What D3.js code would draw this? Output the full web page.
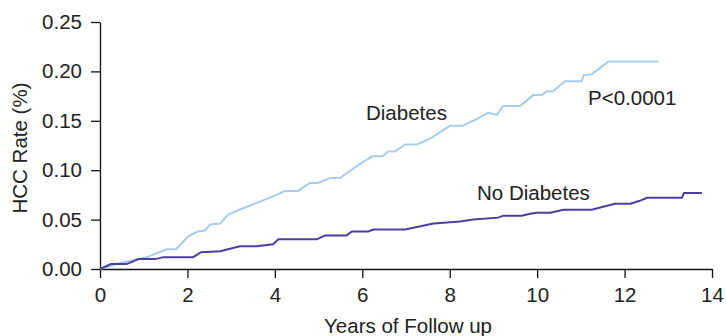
<!DOCTYPE html>
<html>
<head>
<meta charset="utf-8">
<script src="https://cdn.jsdelivr.net/npm/d3@7"></script>
<style>
body{margin:0;background:#fff;}
svg text{font-family:"Liberation Sans",Arial,sans-serif;fill:#222;}
</style>
</head>
<body>
<div class="chart"></div>
<script>
// years of follow up / HCC rate
let diabYears=[0,0.46,1.07,1.53,1.74,2.02,2.24,2.40,2.52,2.75,2.93,3.36,3.70,3.93,4.23,4.53,4.80,4.99,5.26,5.49,5.87,6.22,6.47,6.59,6.75,6.98,7.25,7.55,8.01,8.30,8.62,8.88,9.08,9.22,9.61,9.91,10.11,10.22,10.36,10.64,11.02,11.06,11.25,11.63,12.77]
let diabRate=[0,0.006,0.012,0.020,0.020,0.033,0.038,0.039,0.045,0.046,0.055,0.063,0.069,0.073,0.079,0.079,0.087,0.087,0.092,0.092,0.104,0.114,0.114,0.119,0.119,0.126,0.126,0.132,0.145,0.145,0.152,0.158,0.156,0.165,0.165,0.176,0.176,0.180,0.180,0.190,0.190,0.196,0.197,0.210,0.210]

let noDiabYears=[0,0.25,0.61,0.88,1.26,1.45,2.13,2.31,2.75,3.20,3.58,3.96,4.08,4.96,5.15,5.64,5.76,6.14,6.25,6.98,7.63,8.24,8.54,9.11,9.23,9.65,9.84,9.99,10.30,10.60,11.25,11.51,11.78,12.13,12.35,12.51,13.31,13.36,13.77]
let noDiabRate=[0,0.005,0.005,0.010,0.010,0.012,0.012,0.017,0.018,0.023,0.023,0.025,0.030,0.030,0.034,0.034,0.038,0.038,0.040,0.040,0.046,0.048,0.050,0.052,0.054,0.054,0.056,0.057,0.057,0.060,0.060,0.063,0.066,0.066,0.069,0.072,0.072,0.077,0.077]

let xTicks=[0,2,4,6,8,10,12,14]
let yTicks=[0,0.05,0.10,0.15,0.20,0.25]

let w=726, h=336
let fs='20.5px'
let svg=d3.select('.chart').append('svg').attr('width',w).attr('height',h)

let xScale=d3.scaleLinear().domain([0,14]).range([100,712])
let yScale=d3.scaleLinear().domain([0,0.25]).range([269,22])

let xAxis=d3.axisBottom(xScale).tickValues(xTicks).tickFormat(d3.format('d')).tickSize(9).tickSizeOuter(0).tickPadding(9)
let yAxis=d3.axisLeft(yScale).tickValues(yTicks).tickFormat(d3.format('.2f')).tickSize(9).tickSizeOuter(0).tickPadding(9)

svg.append('g').attr('transform','translate(0,269)').call(xAxis)
svg.append('g').attr('transform','translate(100,0)').call(yAxis)
svg.selectAll('.domain, .tick line').attr('stroke','#111').attr('stroke-width',1.3)
svg.selectAll('.tick text').style('font-size',fs).attr('fill','#222')

let line=d3.line().x(d=>xScale(d[0])).y(d=>yScale(d[1]))

svg.append('path').datum(diabYears.map((x,i)=>[x,diabRate[i]]))
  .attr('d',line).attr('fill','none').attr('stroke','#a9cbea').attr('stroke-width',2)
svg.append('path').datum(noDiabYears.map((x,i)=>[x,noDiabRate[i]]))
  .attr('d',line).attr('fill','none').attr('stroke','#4b3ea0').attr('stroke-width',2)

svg.append('text').text('Diabetes').attr('x',366).attr('y',120).style('font-size',fs)
svg.append('text').text('No Diabetes').attr('x',477).attr('y',200).style('font-size',fs)
svg.append('text').text('P<0.0001').attr('x',588).attr('y',105).style('font-size',fs)

svg.append('text').text('Years of Follow up').attr('x',408).attr('y',333).attr('text-anchor','middle').style('font-size',fs)
svg.append('text').text('HCC Rate (%)').attr('transform','translate(27,148) rotate(-90)').attr('text-anchor','middle').style('font-size',fs)
</script>
</body>
</html>
